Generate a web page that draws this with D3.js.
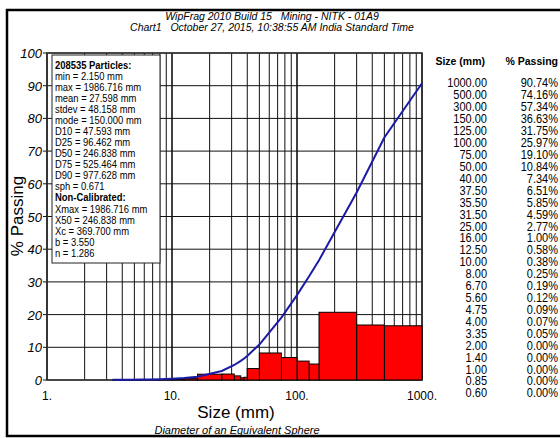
<!DOCTYPE html>
<html>
<head>
<meta charset="utf-8">
<script src="https://cdn.jsdelivr.net/npm/d3@7"></script>
<style>
  body { margin: 0; background: #fff; }
  svg { display: block; font-family: "Liberation Sans Narrow", "Liberation Sans", Arial, sans-serif; }
  .title { white-space: pre; }
</style>
</head>
<body>
<svg id="chart" width="560" height="438"></svg>
<script>
// sieve sizes (mm) and cumulative % passing, as printed in the table
var sizes = [1000, 500, 300, 150, 125, 100, 75, 50, 40, 37.5, 35.5, 31.5, 25, 16, 12.5, 10, 8, 6.7, 5.6, 4.75, 4, 3.35, 2, 1.4, 1, 0.85, 0.6];
var passing = [90.74, 74.16, 57.34, 36.63, 31.75, 25.97, 19.10, 10.84, 7.34, 6.51, 5.85, 4.59, 2.77, 1.00, 0.58, 0.38, 0.25, 0.19, 0.12, 0.09, 0.07, 0.05, 0, 0, 0, 0, 0];

// histogram bars, % retained between consecutive sieves (upper size -> lower size)
var binUpper = [1000, 500, 300, 150, 125, 100, 75, 50, 40, 37.5, 35.5, 31.5, 25, 16, 12.5, 10, 8, 6.7, 5.6, 4.75, 4];
var binLower = [500, 300, 150, 125, 100, 75, 50, 40, 37.5, 35.5, 31.5, 25, 16, 12.5, 10, 8, 6.7, 5.6, 4.75, 4, 3.35];
var retained = [16.58, 16.82, 20.71, 4.88, 5.78, 6.87, 8.26, 3.50, 0.83, 0.66, 1.26, 1.82, 1.77, 0.42, 0.20, 0.13, 0.06, 0.07, 0.03, 0.02, 0.02];

var xDecades = [1, 10, 100, 1000];
var xDecadeLabels = ["1.", "10.", "100.", "1000."];

var statLines = [
  {t: "208535 Particles:", b: true},
  {t: "min = 2.150 mm"},
  {t: "max = 1986.716 mm"},
  {t: "mean = 27.598 mm"},
  {t: "stdev = 48.158 mm"},
  {t: "mode = 150.000 mm"},
  {t: "D10 = 47.593 mm"},
  {t: "D25 = 96.462 mm"},
  {t: "D50 = 246.838 mm"},
  {t: "D75 = 525.464 mm"},
  {t: "D90 = 977.628 mm"},
  {t: "sph = 0.671"},
  {t: "Non-Calibrated:", b: true},
  {t: "Xmax = 1986.716 mm"},
  {t: "X50 = 246.838 mm"},
  {t: "Xc = 369.700 mm"},
  {t: "b = 3.550"},
  {t: "n = 1.286"}
];

var svg = d3.select('#chart');

// outer frame (right edge runs off the picture)
svg.append('path')
  .attr('d', 'M565,10 L7,10 L7,436 L565,436')
  .attr('fill', 'none').attr('stroke', '#000').attr('stroke-width', 2.5);

// titles
svg.append('text').attr('class', 'title').attr('x', 272).attr('y', 20).attr('text-anchor', 'middle')
  .attr('font-style', 'italic').attr('font-size', 10.5)
  .text('WipFrag 2010 Build 15   Mining - NITK - 01A9');
svg.append('text').attr('class', 'title').attr('x', 272).attr('y', 31).attr('text-anchor', 'middle')
  .attr('font-style', 'italic').attr('font-size', 10.5)
  .text('Chart1   October 27, 2015, 10:38:55 AM India Standard Time');

var x = d3.scaleLog().domain([1, 1000]).range([47, 422]);
var y = d3.scaleLinear().domain([0, 100]).range([380, 53]);

// grid
var g = svg.append('g');
g.selectAll('.vgrid')
  .data(x.ticks())
  .enter().append('line')
  .attr('class', 'vgrid')
  .attr('x1', function(d) { return x(d); })
  .attr('x2', function(d) { return x(d); })
  .attr('y1', y(0)).attr('y2', y(100))
  .attr('stroke', '#111')
  .attr('stroke-width', function(d) { return xDecades.indexOf(d) >= 0 ? 1.6 : 1; });

g.selectAll('.hgrid')
  .data(y.ticks(10))
  .enter().append('line')
  .attr('class', 'hgrid')
  .attr('x1', x(1) - 4).attr('x2', x(1000))
  .attr('y1', function(d) { return y(d); })
  .attr('y2', function(d) { return y(d); })
  .attr('stroke', '#111').attr('stroke-width', 1);

g.append('rect')
  .attr('x', x(1)).attr('y', y(100))
  .attr('width', x(1000) - x(1)).attr('height', y(0) - y(100))
  .attr('fill', 'none').attr('stroke', '#333').attr('stroke-width', 1.5);

// y tick labels
svg.selectAll('.ylab')
  .data(y.ticks(10))
  .enter().append('text')
  .attr('class', 'ylab')
  .attr('x', 42)
  .attr('y', function(d) { return y(d) + 5; })
  .attr('text-anchor', 'end')
  .attr('font-style', 'italic')
  .attr('font-size', 13)
  .text(function(d) { return d; });

// x tick labels
svg.selectAll('.xlab')
  .data(xDecades)
  .enter().append('text')
  .attr('class', 'xlab')
  .attr('x', function(d) { return x(d); })
  .attr('y', 400)
  .attr('text-anchor', 'middle')
  .attr('font-size', 12)
  .text(function(d, i) { return xDecadeLabels[i]; });

// histogram
svg.selectAll('.bar')
  .data(retained)
  .enter().append('rect')
  .attr('class', 'bar')
  .attr('x', function(d, i) { return x(binLower[i]); })
  .attr('width', function(d, i) { return x(binUpper[i]) - x(binLower[i]); })
  .attr('y', function(d) { return y(d); })
  .attr('height', function(d) { return y(0) - y(d); })
  .attr('fill', '#ff0000')
  .attr('stroke', '#000')
  .attr('stroke-width', 1);

// cumulative curve
var curvePts = sizes.map(function(s, i) { return [s, passing[i]]; })
  .filter(function(p) { return p[0] >= 3.35; })
  .reverse();
var line = d3.line()
  .x(function(d) { return x(d[0]); })
  .y(function(d) { return y(d[1]); });
svg.append('path')
  .datum(curvePts)
  .attr('d', line)
  .attr('fill', 'none')
  .attr('stroke', '#1a1aa6')
  .attr('stroke-width', 2);

// stats box
svg.append('rect')
  .attr('x', 52).attr('y', 55).attr('width', 108).attr('height', 208)
  .attr('fill', '#fff').attr('stroke', '#222').attr('stroke-width', 1);
// text squeezed sideways like the original
var box = svg.append('g').attr('transform', 'translate(55,0) scale(0.82,1)');
box.selectAll('text')
  .data(statLines)
  .enter().append('text')
  .attr('x', 0)
  .attr('y', function(d, i) { return 69 + i * 11.04; })
  .attr('font-size', 11.5)
  .attr('font-weight', function(d) { return d.b ? 'bold' : 'normal'; })
  .text(function(d) { return d.t; });

// axis titles
svg.append('text')
  .attr('transform', 'translate(23,216) rotate(-90)')
  .attr('text-anchor', 'middle')
  .attr('font-family', 'Liberation Sans, Arial, sans-serif')
  .attr('font-size', 17)
  .text('% Passing');
svg.append('text')
  .attr('x', 236).attr('y', 418)
  .attr('text-anchor', 'middle')
  .attr('font-size', 17)
  .text('Size (mm)');
svg.append('text')
  .attr('x', 237).attr('y', 434)
  .attr('text-anchor', 'middle')
  .attr('font-style', 'italic')
  .attr('font-size', 11)
  .text('Diameter of an Equivalent Sphere');

// table on the right
var tbl = svg.append('g');
tbl.append('text').attr('x', 485).attr('y', 65).attr('text-anchor', 'end')
  .attr('font-weight', 'bold').attr('font-size', 10.5).text('Size (mm)');
tbl.append('text').attr('x', 558).attr('y', 65).attr('text-anchor', 'end')
  .attr('font-weight', 'bold').attr('font-size', 10.5).text('% Passing');

var fmt = d3.format('.2f');
var sizeCol = svg.append('g').attr('transform', 'translate(487,0) scale(0.88,1)');
sizeCol.selectAll('text')
  .data(sizes)
  .enter().append('text')
  .attr('x', 0)
  .attr('y', function(d, i) { return 87.5 + i * 11.92; })
  .attr('text-anchor', 'end')
  .attr('font-size', 12.5)
  .text(function(d) { return fmt(d); });
var passCol = svg.append('g').attr('transform', 'translate(558,0) scale(0.88,1)');
passCol.selectAll('text')
  .data(passing)
  .enter().append('text')
  .attr('x', 0)
  .attr('y', function(d, i) { return 87.5 + i * 11.92; })
  .attr('text-anchor', 'end')
  .attr('font-size', 12.5)
  .text(function(d) { return fmt(d) + '%'; });
</script>
</body>
</html>
